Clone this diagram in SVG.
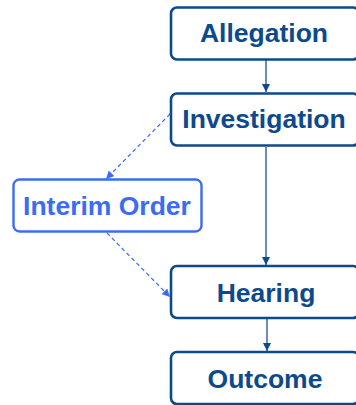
<svg xmlns="http://www.w3.org/2000/svg" width="356" height="405" viewBox="0 0 356 405">
<style>
.box{fill:#fff;stroke:#0d4a8c;stroke-width:2.6}
.ibox{fill:#fff;stroke:#3b6cf5;stroke-width:2.4}
.t{font-family:"Liberation Sans",Arial,sans-serif;font-weight:bold;font-size:26.5px;fill:#0d4a8c;text-anchor:middle}
.it{fill:#3b6cf5}
.c{stroke:#1b4f8e;stroke-width:1.3;fill:none}
.d{stroke:#3b6cf5;stroke-width:1.2;fill:none;stroke-dasharray:4 3}
</style>
<defs>
<marker id="a" viewBox="0 0 10 10" refX="10" refY="5" markerWidth="8" markerHeight="8" markerUnits="userSpaceOnUse" orient="auto"><path d="M0,0L10,5L0,10z" fill="#0d4a8c"/></marker>
<marker id="b" viewBox="0 0 10 10" refX="10" refY="5" markerWidth="8" markerHeight="8" markerUnits="userSpaceOnUse" orient="auto"><path d="M0,0L10,5L0,10z" fill="#3b6cf5"/></marker>
</defs>
<g id="connectors">
<line class="c" x1="266" y1="60" x2="266" y2="92" marker-end="url(#a)"/>
<line class="c" x1="266" y1="147" x2="266" y2="265" marker-end="url(#a)"/>
<line class="c" x1="267" y1="319" x2="267" y2="351" marker-end="url(#a)"/>
<line class="d" x1="170" y1="114" x2="106" y2="179" marker-end="url(#b)"/>
<line class="d" x1="107" y1="233" x2="170" y2="297" marker-end="url(#b)"/>
</g>
<g id="allegation"><rect class="box" x="171" y="7.5" width="188" height="52" rx="6"/><text class="t" x="264" y="42">Allegation</text></g>
<g id="investigation"><rect class="box" x="171" y="93.5" width="188" height="52" rx="6"/><text class="t" x="264" y="128">Investigation</text></g>
<g id="interim"><rect class="ibox" x="13.5" y="179.5" width="188" height="52" rx="6"/><text class="t it" x="107" y="215">Interim Order</text></g>
<g id="hearing"><rect class="box" x="171" y="266" width="188" height="52" rx="6"/><text class="t" x="266" y="302">Hearing</text></g>
<g id="outcome"><rect class="box" x="171" y="352" width="188" height="52" rx="6"/><text class="t" x="265" y="388">Outcome</text></g>
</svg>
